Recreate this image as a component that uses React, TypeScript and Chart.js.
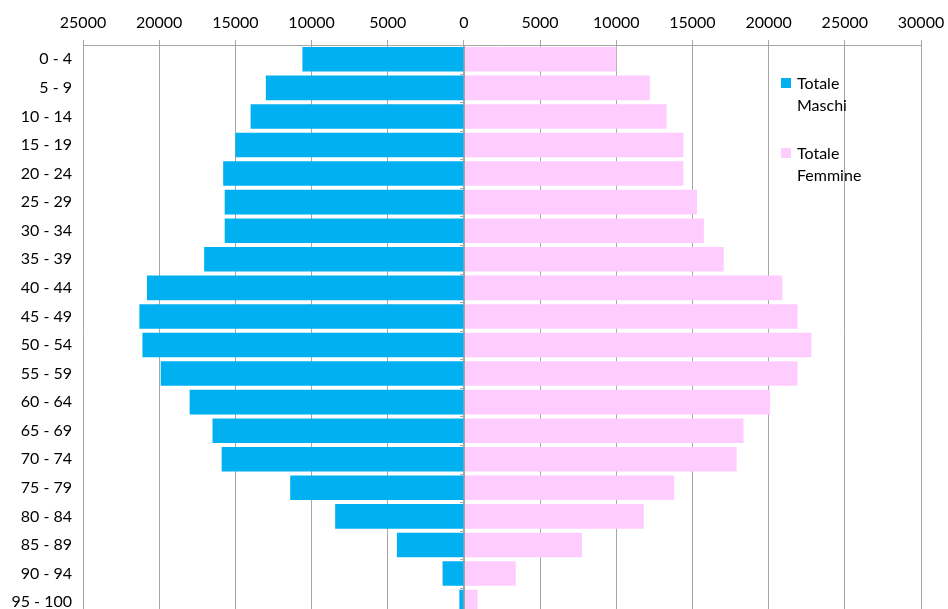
import React, { useEffect, useRef } from "react";
import { Chart, registerables } from "chart.js";

Chart.register(...registerables);

const categories = [
  "0 - 4", "5 - 9", "10 - 14", "15 - 19", "20 - 24", "25 - 29", "30 - 34",
  "35 - 39", "40 - 44", "45 - 49", "50 - 54", "55 - 59", "60 - 64", "65 - 69",
  "70 - 74", "75 - 79", "80 - 84", "85 - 89", "90 - 94", "95 - 100",
];

const maschi = [
  10600, 13000, 14000, 15000, 15800, 15700, 15700, 17050, 20800, 21300,
  21100, 19900, 18000, 16500, 15900, 11400, 8450, 4400, 1400, 300,
];

const femmine = [
  10000, 12200, 13300, 14400, 14400, 15300, 15750, 17050, 20900, 21900,
  22800, 21900, 20100, 18350, 17900, 13800, 11800, 7750, 3400, 900,
];

const xTicksMin = -25000;
const xTicksMax = 30000;
const xTickStep = 5000;

const seriesLabels = ["Totale Maschi", "Totale Femmine"];
const colors = ["#00B0F0", "#FFCCFF"];

const FONT = "Lato, 'Open Sans', sans-serif";

const zeroTicksPlugin = {
  id: "zeroTicks",
  afterDatasetsDraw(chart: any) {
    const { ctx, scales } = chart;
    const x0 = scales.x.getPixelForValue(0);
    ctx.save();
    ctx.strokeStyle = "#A6A6A6";
    ctx.lineWidth = 1;
    ctx.beginPath();
    ctx.moveTo(Math.round(x0) + 0.5, chart.chartArea.top);
    ctx.lineTo(Math.round(x0) + 0.5, chart.chartArea.bottom);
    const n = categories.length;
    const step = (chart.chartArea.bottom - chart.chartArea.top) / n;
    for (let i = 0; i <= n; i++) {
      const yy = Math.round(chart.chartArea.top + i * step) + 0.5;
      ctx.moveTo(Math.round(x0) - 4, yy);
      ctx.lineTo(Math.round(x0), yy);
    }
    ctx.stroke();
    ctx.restore();
  },
};

export default function App() {
  const ref = useRef<HTMLCanvasElement | null>(null);

  useEffect(() => {
    if (!ref.current) return;
    const chart = new Chart(ref.current, {
      type: "bar",
      data: {
        labels: categories,
        datasets: [
          {
            label: seriesLabels[0],
            data: maschi.map((v) => -v),
            backgroundColor: colors[0],
            borderWidth: 0,
            barPercentage: 0.86,
            categoryPercentage: 1,
          },
          {
            label: seriesLabels[1],
            data: femmine,
            backgroundColor: colors[1],
            borderWidth: 0,
            barPercentage: 0.86,
            categoryPercentage: 1,
          },
        ],
      },
      options: {
        indexAxis: "y",
        responsive: false,
        animation: false,
        layout: { padding: { left: 0, right: 27, top: 0, bottom: 0 } },
        plugins: {
          legend: { display: false },
          tooltip: { enabled: false },
        },
        scales: {
          x: {
            position: "top",
            stacked: true,
            min: xTicksMin,
            max: xTicksMax,
            ticks: {
              stepSize: xTickStep,
              color: "#000",
              font: { family: FONT, size: 16 },
              padding: 8,
              callback: (v: any) => String(Math.abs(Number(v))),
            },
            grid: {
              color: "#A6A6A6",
              lineWidth: 1,
              tickLength: 5,
              drawTicks: true,
            },
            border: { display: true, color: "#A6A6A6" },
            afterFit: (s: any) => {
              s.height = 45;
              s.paddingLeft = 0;
              s.paddingRight = 0;
            },
          },
          y: {
            stacked: true,
            grid: { display: false, drawTicks: false },
            border: { display: false },
            ticks: {
              color: "#000",
              font: { family: FONT, size: 16 },
              padding: 11,
              autoSkip: false,
            },
            afterFit: (s: any) => {
              s.width = 83;
            },
          },
        },
      },
      plugins: [zeroTicksPlugin],
    } as any);
    return () => chart.destroy();
  }, []);

  const legendText: React.CSSProperties = {
    position: "absolute",
    fontFamily: FONT,
    fontSize: 16,
    lineHeight: "22px",
    color: "#000",
    whiteSpace: "pre",
  };

  return (
    <div
      style={{
        position: "fixed",
        left: 0,
        top: 0,
        width: 948,
        height: 609,
        overflow: "hidden",
        background: "#fff",
      }}
    >
      <canvas ref={ref} width={948} height={637} style={{ display: "block" }} />
      <div style={{ position: "absolute", left: 781, top: 78, width: 10, height: 10, background: colors[0] }} />
      <div style={{ ...legendText, left: 797, top: 72 }}>{"Totale\nMaschi"}</div>
      <div style={{ position: "absolute", left: 781, top: 148, width: 10, height: 10, background: colors[1] }} />
      <div style={{ ...legendText, left: 797, top: 142 }}>{"Totale\nFemmine"}</div>
    </div>
  );
}
